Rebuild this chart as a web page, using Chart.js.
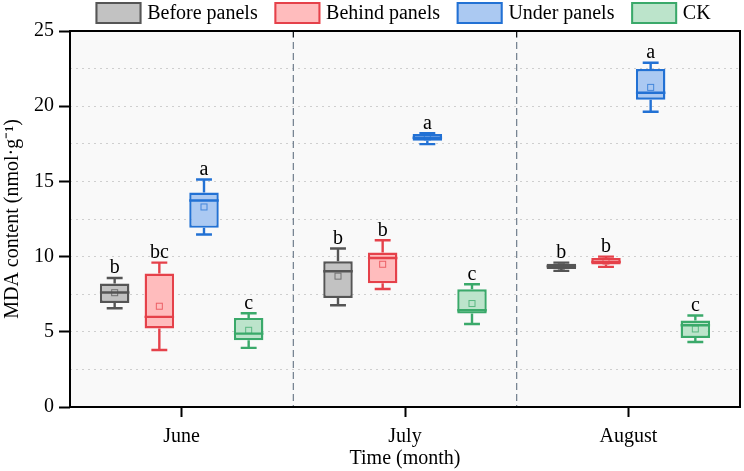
<!DOCTYPE html>
<html>
<head>
<meta charset="utf-8">
<script src="https://cdn.jsdelivr.net/npm/chart.js@4.4.1/dist/chart.umd.min.js"></script>
<style>
  html, body { margin: 0; padding: 0; background: #ffffff; }
  #wrap { width: 744px; height: 471px; }
</style>
</head>
<body>
<div id="wrap"><canvas id="c" width="744" height="471"></canvas></div>
<script>
// ---------- data ----------
const categories = ['June', 'July', 'August'];
const seriesNames = ['Before panels', 'Behind panels', 'Under panels', 'CK'];

const beforeMin    = [6.57, 6.77, 9.05];
const beforeQ1     = [6.92, 7.25, 9.18];
const beforeMedian = [7.61, 9.03, 9.35];
const beforeQ3     = [8.21, 9.69, 9.52];
const beforeMax    = [8.58, 10.54, 9.60];
const beforeMean   = [7.60, 8.70, 9.35];
const beforeLetters = ['b', 'b', 'b'];

const behindMin    = [3.79, 7.85, 9.32];
const behindQ1     = [5.22, 8.23, 9.47];
const behindMedian = [5.99, 9.91, 9.65];
const behindQ3     = [8.87, 10.27, 9.90];
const behindMax    = [9.60, 11.09, 10.00];
const behindMean   = [6.70, 9.49, 9.70];
const behindLetters = ['bc', 'b', 'b'];

const underMin    = [11.47, 17.48, 19.63];
const underQ1     = [11.91, 17.70, 20.43];
const underMedian = [13.73, 17.90, 20.89];
const underQ3     = [14.26, 18.15, 22.47];
const underMax    = [15.13, 18.20, 22.89];
const underMean   = [13.30, 17.95, 21.25];
const underLetters = ['a', 'a', 'a'];

const ckMin    = [3.93, 5.52, 4.32];
const ckQ1     = [4.44, 6.21, 4.59];
const ckMedian = [4.88, 6.43, 5.44];
const ckQ3     = [5.92, 7.83, 5.75];
const ckMax    = [6.23, 8.16, 6.08];
const ckMean   = [5.10, 6.88, 5.19];
const ckLetters = ['c', 'c', 'c'];

const yTickStep = 2.5;
const yMin = 0, yMax = 25;

// ---------- styles ----------
const borderColors = ['#555555', '#e5414a', '#2271d4', '#3aa96a'];
const fillColors   = ['#c2c2c2', '#ffbcbd', '#abc9f2', '#bce4cb'];
const FONT = "'Liberation Serif', 'Times New Roman', serif";
const LW = 2.4;

const stats = [
  {min: beforeMin, q1: beforeQ1, med: beforeMedian, q3: beforeQ3, max: beforeMax, mean: beforeMean, letters: beforeLetters},
  {min: behindMin, q1: behindQ1, med: behindMedian, q3: behindQ3, max: behindMax, mean: behindMean, letters: behindLetters},
  {min: underMin,  q1: underQ1,  med: underMedian,  q3: underQ3,  max: underMax,  mean: underMean,  letters: underLetters},
  {min: ckMin,     q1: ckQ1,     med: ckMedian,     q3: ckQ3,     max: ckMax,     mean: ckMean,     letters: ckLetters}
];

const datasets = stats.map((s, i) => ({
  label: seriesNames[i],
  data: s.q1.map((q, j) => [q, s.q3[j]]),
  backgroundColor: fillColors[i],
  borderColor: borderColors[i],
  borderWidth: LW,
  borderSkipped: false,
  categoryPercentage: 0.8,
  barPercentage: 0.66
}));

Chart.defaults.font.family = FONT;
Chart.defaults.font.size = 20;
Chart.defaults.color = '#000000';

const backgroundPlugin = {
  id: 'bg',
  beforeDraw(chart) {
    const {ctx, chartArea: a} = chart;
    ctx.save();
    ctx.fillStyle = '#f9f9f9';
    ctx.fillRect(a.left, a.top, a.right - a.left, a.bottom - a.top);
    ctx.restore();
  },
  beforeDatasetsDraw(chart) {
    const {ctx, chartArea: a, scales: {x}} = chart;
    ctx.save();
    for (let i = 0; i < categories.length - 1; i++) {
      const px = (x.getPixelForValue(i) + x.getPixelForValue(i + 1)) / 2;
      ctx.strokeStyle = '#6f7d8c';
      ctx.lineWidth = 1.2;
      ctx.setLineDash([7, 4]);
      ctx.beginPath();
      ctx.moveTo(px, a.top);
      ctx.lineTo(px, a.bottom);
      ctx.stroke();
      ctx.setLineDash([]);
      ctx.strokeStyle = '#000';
      ctx.lineWidth = 1;
      ctx.beginPath();
      ctx.moveTo(px, a.top);
      ctx.lineTo(px, a.top + 6);
      ctx.stroke();
    }
    ctx.restore();
  }
};

const boxPlugin = {
  id: 'boxes',
  afterDatasetsDraw(chart) {
    const {ctx, scales: {y}} = chart;
    ctx.save();
    chart.data.datasets.forEach((ds, i) => {
      const meta = chart.getDatasetMeta(i);
      const s = stats[i];
      meta.data.forEach((bar, j) => {
        const cx = bar.x;
        const w = bar.width;
        const half = w / 2;
        const capHalf = w * 0.27;
        const pMin = y.getPixelForValue(s.min[j]);
        const pQ1 = y.getPixelForValue(s.q1[j]);
        const pMed = y.getPixelForValue(s.med[j]);
        const pQ3 = y.getPixelForValue(s.q3[j]);
        const pMax = y.getPixelForValue(s.max[j]);
        const pMean = y.getPixelForValue(s.mean[j]);
        ctx.strokeStyle = borderColors[i];
        ctx.lineWidth = LW;
        ctx.setLineDash([]);
        ctx.beginPath();
        // whiskers
        ctx.moveTo(cx, pQ3); ctx.lineTo(cx, pMax);
        ctx.moveTo(cx - capHalf, pMax); ctx.lineTo(cx + capHalf, pMax);
        ctx.moveTo(cx, pQ1); ctx.lineTo(cx, pMin);
        ctx.moveTo(cx - capHalf, pMin); ctx.lineTo(cx + capHalf, pMin);
        // median
        ctx.moveTo(cx - half, pMed); ctx.lineTo(cx + half, pMed);
        ctx.stroke();
        // mean marker
        ctx.globalAlpha = 0.75;
        ctx.lineWidth = 1;
        ctx.strokeRect(cx - 3, pMean - 3, 6, 6);
        ctx.globalAlpha = 1;
        // letter
        ctx.fillStyle = '#000';
        ctx.font = '20px ' + FONT;
        ctx.textAlign = 'center';
        ctx.textBaseline = 'alphabetic';
        ctx.fillText(s.letters[j], cx, pMax - 4.5);
      });
    });
    ctx.restore();
  },
  afterDraw(chart) {
    const {ctx, chartArea: a} = chart;
    ctx.save();
    ctx.strokeStyle = '#000';
    ctx.lineWidth = 2;
    ctx.strokeRect(a.left, a.top, a.right - a.left, a.bottom - a.top);
    // legend
    ctx.font = '20px ' + FONT;
    ctx.textBaseline = 'middle';
    ctx.textAlign = 'left';
    let lx = a.left + 25.5;
    const ly = 2, bw = 46, bh = 22;
    seriesNames.forEach((name, i) => {
      ctx.fillStyle = fillColors[i];
      ctx.fillRect(lx, ly, bw, bh);
      ctx.strokeStyle = borderColors[i];
      ctx.lineWidth = 2;
      ctx.strokeRect(lx + 1, ly + 1, bw - 2, bh - 2);
      ctx.fillStyle = '#000';
      const tx = lx + bw + 5.7;
      ctx.fillText(name, tx, ly + bh / 2 + 0.5);
      lx = tx + ctx.measureText(name).width + 16.7;
    });
    ctx.restore();
  }
};

new Chart(document.getElementById('c'), {
  type: 'bar',
  data: { labels: categories, datasets: datasets },
  options: {
    responsive: false,
    animation: false,
    devicePixelRatio: 1,
    layout: { padding: { top: 31, right: 4, left: 0, bottom: 0 } },
    plugins: {
      legend: { display: false },
      tooltip: { enabled: false }
    },
    scales: {
      x: {
        type: 'category',
        offset: true,
        afterFit(scale) { scale.height = 64; },
        grid: {
          offset: false,
          drawOnChartArea: false,
          drawTicks: true,
          tickLength: 10,
          tickWidth: 2,
          tickColor: '#000'
        },
        border: { display: false },
        ticks: { padding: 8, color: '#000', font: { size: 20, family: FONT } },
        title: {
          display: true,
          text: 'Time (month)',
          color: '#000',
          font: { size: 20, family: FONT },
          padding: { top: 0, bottom: 0 }
        }
      },
      y: {
        min: yMin,
        max: yMax,
        afterFit(scale) { scale.width = 70; },
        grid: {
          drawOnChartArea: true,
          drawTicks: true,
          tickLength: 11,
          tickWidth: 2,
          tickBorderDash: [],
          lineWidth: 1,
          color: (c) => (c.tick && (c.tick.value === yMin || c.tick.value === yMax)) ? 'rgba(0,0,0,0)' : '#cfcfcf',
          tickColor: (c) => (c.tick && c.tick.value % 5 === 0) ? '#000' : 'rgba(0,0,0,0)'
        },
        border: { display: false, dash: [2, 4] },
        ticks: {
          stepSize: yTickStep,
          padding: 5,
          color: '#000',
          font: { size: 20, family: FONT },
          callback: (v) => (v % 5 === 0 ? String(v) : '')
        },
        title: {
          display: true,
          text: 'MDA content (nmol·g⁻¹)',
          color: '#000',
          font: { size: 20, family: FONT },
          padding: { top: 1, bottom: 0 }
        }
      }
    }
  },
  plugins: [backgroundPlugin, boxPlugin]
});
</script>
</body>
</html>
